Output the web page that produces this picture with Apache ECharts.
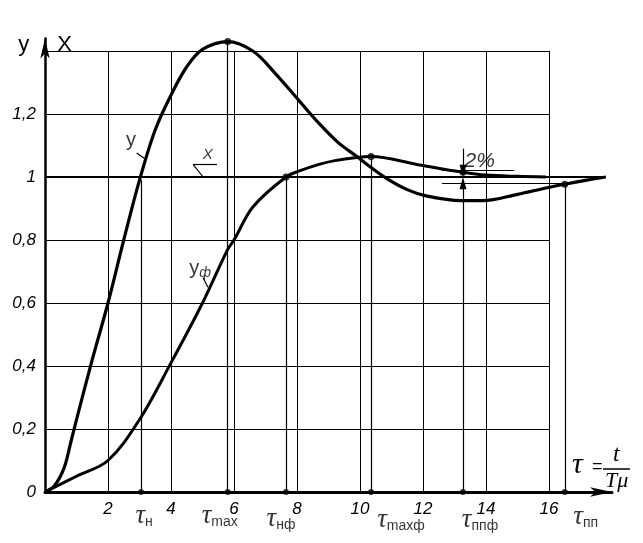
<!DOCTYPE html>
<html>
<head>
<meta charset="utf-8">
<script src="https://cdn.jsdelivr.net/npm/echarts@6.0.0/dist/echarts.min.js"></script>
<style>
  html, body { margin: 0; padding: 0; background: #fff; }
  #chart { width: 643px; height: 543px; }
</style>
</head>
<body>
<div id="chart"></div>
<script>
// ---- data ----
var xTickLabels = ['', '2', '4', '6', '8', '10', '12', '14', '16'];
var yTickLabels = ['0', '0,2', '0,4', '0,6', '0,8', '1', '1,2', ''];

// y : response without filter
var curveY = [[0,0],[0.3,0.02],[0.6,0.075],[0.8,0.15],[1.0,0.23],[1.5,0.42],[2.0,0.6],[2.5,0.8],
  [3.0,0.99],[3.5,1.15],[4.0,1.26],[4.5,1.35],[5.0,1.405],[5.8,1.43],[6.6,1.40],[7.3,1.33],
  [8.0,1.25],[8.7,1.17],[9.3,1.11],[9.9,1.065],[10.35,1.03],[10.85,0.995],[11.5,0.96],
  [12.1,0.94],[13.2,0.925],[13.9,0.925],[15.0,0.945],[15.9,0.965],[16.5,0.977],[17.2,0.99],[17.8,1.0]];
// y_ф : response with filter
var curveYf = [[0,0],[1.0,0.05],[2.0,0.1],[3.0,0.23],[4.0,0.41],[5.0,0.6],[5.8,0.77],[6.0,0.8],
  [6.6,0.905],[7.65,1.0],[8.1,1.02],[8.7,1.04],[9.2,1.052],[9.9,1.062],[10.35,1.065],
  [11.8,1.04],[13.27,1.015],[14.0,1.006],[15.0,1.002],[15.9,1.0]];
// X : set point
var setpoint = [[0,1],[17.8,1]];

var tauX = [3.05, 5.8, 7.65, 10.35, 13.27, 16.5];
var tauTop = [0.99, 1.43, 1.0, 1.065, 0.925, 0.977];
var tauSub = ['н', 'max', 'нф', 'maxф', 'ппф', 'пп'];
var curveDots = [[5.8,1.43],[7.65,1.0],[10.35,1.065],[13.27,1.015],[16.5,0.977]];

var bandLevel = [1.02, 0.98];
var bandFrom = [12.6, 12.6];
var bandTo = [14.9, 16.8];

// ---- layout ----
var X0 = 45, Y0 = 492, PXX = 31.5, PXY = 315;
var tauLabelOffset = [[3,24],[-8,24],[-5,27],[30,28],[17,28],[21,25]];
var tauLeader = [[-2,10],[-9,14],[-8,13],[5,14],[2,13],[7,13]];

var chart = echarts.init(document.getElementById('chart'));

var ink = '#000';
var lblFont = { color: ink, fontStyle: 'italic', fontFamily: 'Liberation Sans Narrow, Liberation Sans', fontSize: 17 };
var richTau = {
  t: { fontFamily: 'Liberation Serif', fontStyle: 'italic', fontSize: 27, color: ink },
  s: { fontFamily: 'Liberation Sans Narrow, Liberation Sans', fontSize: 14, color: ink, padding: [12, 0, 0, 0] }
};

function seg(a, b, extra) {
  var p = { coord: a, symbol: 'none' };
  var q = { coord: b, symbol: 'none' };
  if (extra) for (var k in extra) q[k] = extra[k];
  return [p, q];
}

var marks = [];
// tau verticals
tauX.forEach(function (x, i) { marks.push(seg([x, 0], [x, tauTop[i]])); });
// tau leaders under axis
tauX.forEach(function (x, i) {
  marks.push(seg([x, 0], [x + tauLeader[i][0] / PXX, -tauLeader[i][1] / PXY]));
});
// 2% band
bandLevel.forEach(function (v, i) { marks.push(seg([bandFrom[i], v], [bandTo[i], v])); });
// arrows
marks.push(seg([tauX[4], 1.09], [tauX[4], bandLevel[0]], { symbol: 'triangle', symbolSize: [7, 12], symbolRotate: 180 }));
marks.push(seg([tauX[4], 0.925], [tauX[4], bandLevel[1]], { symbol: 'triangle', symbolSize: [7, 12] }));
// curve label leaders
marks.push(seg([2.91, 1.076], [3.17, 1.058]));
marks.push(seg([5.02, 1.0], [4.7, 1.04]));
marks.push(seg([4.7, 1.04], [5.46, 1.04]));
marks.push(seg([5.02, 0.68], [5.17, 0.65]));

var option = {
  animation: false,
  backgroundColor: '#fff',
  grid: [
    { left: X0, top: Y0 - 1.4 * PXY, width: 16 * PXX, height: 1.4 * PXY },
    { left: X0, top: Y0 - 1.44 * PXY, width: 18 * PXX, height: 1.44 * PXY }
  ],
  xAxis: [
    { gridIndex: 0, type: 'value', min: 0, max: 16, interval: 2,
      axisLine: { show: false }, axisTick: { show: false },
      splitLine: { lineStyle: { color: ink, width: 1 } },
      axisLabel: Object.assign({ margin: 9, formatter: function (v, i) { return xTickLabels[i]; } }, lblFont) },
    { gridIndex: 1, type: 'value', min: 0, max: 18,
      axisLine: { lineStyle: { color: ink, width: 3 }, symbol: ['none', 'arrow'], symbolSize: [7, 22] },
      axisTick: { show: false }, axisLabel: { show: false }, splitLine: { show: false } }
  ],
  yAxis: [
    { gridIndex: 0, type: 'value', min: 0, max: 1.4, interval: 0.2,
      axisLine: { show: false }, axisTick: { show: false },
      splitLine: { lineStyle: { color: ink, width: 1 } },
      axisLabel: Object.assign({ margin: 9, formatter: function (v, i) { return yTickLabels[i]; } }, lblFont) },
    { gridIndex: 1, type: 'value', min: 0, max: 1.44,
      name: '{a|y}{b|X}', nameLocation: 'end', nameGap: -18,
      nameTextStyle: { rich: {
        a: { fontFamily: 'Liberation Sans', fontSize: 22, color: ink, padding: [0, 28, 0, 0] },
        b: { fontFamily: 'Liberation Sans', fontSize: 22, color: ink }
      } },
      axisLine: { lineStyle: { color: ink, width: 2.5 }, symbol: ['none', 'arrow'], symbolSize: [7, 20] },
      axisTick: { show: false }, axisLabel: { show: false }, splitLine: { show: false } }
  ],
  series: [
    { name: 'X', type: 'line', xAxisIndex: 1, yAxisIndex: 1, data: setpoint, clip: false,
      showSymbol: false, lineStyle: { color: ink, width: 2.2 }, silent: true,
      markLine: { silent: true, symbol: 'none', label: { show: false },
        lineStyle: { color: ink, width: 1.2, type: 'solid' }, data: marks } },
    { name: 'y', type: 'line', xAxisIndex: 1, yAxisIndex: 1, data: curveY, clip: false,
      smooth: 0.35, showSymbol: false, lineStyle: { color: ink, width: 3.2 } },
    { name: 'yф', type: 'line', xAxisIndex: 1, yAxisIndex: 1, data: curveYf, clip: false,
      smooth: 0.35, showSymbol: false, lineStyle: { color: ink, width: 3 } },
    { name: 'dots', type: 'scatter', xAxisIndex: 1, yAxisIndex: 1, data: curveDots, clip: false,
      symbolSize: 7, itemStyle: { color: ink } },
    { name: 'tau', type: 'scatter', xAxisIndex: 1, yAxisIndex: 1, clip: false,
      symbolSize: 6, itemStyle: { color: ink },
      data: tauX.map(function (x, i) {
        return { value: [x, 0], label: { offset: tauLabelOffset[i] } };
      }),
      label: { show: true, position: 'inside', rich: richTau,
        formatter: function (p) { return '{t|τ}{s|' + tauSub[p.dataIndex] + '}'; } } },
    { name: 'notes', type: 'scatter', xAxisIndex: 1, yAxisIndex: 1, clip: false, symbolSize: 0,
      data: [
        { value: [2.73, 1.117], label: { formatter: '{a|y}' } },
        { value: [5.17, 1.07], label: { formatter: '{c|X}' } },
        { value: [4.92, 0.711], label: { formatter: '{a|y}{s|ф}' } },
        { value: [13.8, 1.05], label: { formatter: '{p|2%}' } }
      ],
      label: { show: true, position: 'inside', rich: {
        a: { fontFamily: 'Liberation Sans', fontSize: 20, color: ink },
        c: { fontFamily: 'Liberation Sans', fontStyle: 'italic', fontSize: 15, color: ink },
        s: { fontFamily: 'Liberation Sans', fontStyle: 'italic', fontSize: 14, color: ink, padding: [10, 0, 0, 0] },
        p: { fontFamily: 'Liberation Sans', fontStyle: 'italic', fontSize: 21, color: ink }
      } } }
  ],
  graphic: [
    { type: 'text', left: 572, top: 450, style: { text: 'τ', font: 'italic 30px Liberation Serif', fill: ink } },
    { type: 'text', left: 592, top: 458, style: { text: '=', font: '18px Liberation Sans', fill: ink } },
    { type: 'text', left: 613, top: 443, style: { text: 't', font: 'italic 24px Liberation Serif', fill: ink } },
    { type: 'line', shape: { x1: 603, y1: 469, x2: 630, y2: 469 }, style: { stroke: ink, lineWidth: 1.5 } },
    { type: 'text', left: 605, top: 470, style: { text: 'Tμ', font: 'italic 22px Liberation Serif', fill: ink } }
  ]
};

chart.setOption(option);
</script>
</body>
</html>
